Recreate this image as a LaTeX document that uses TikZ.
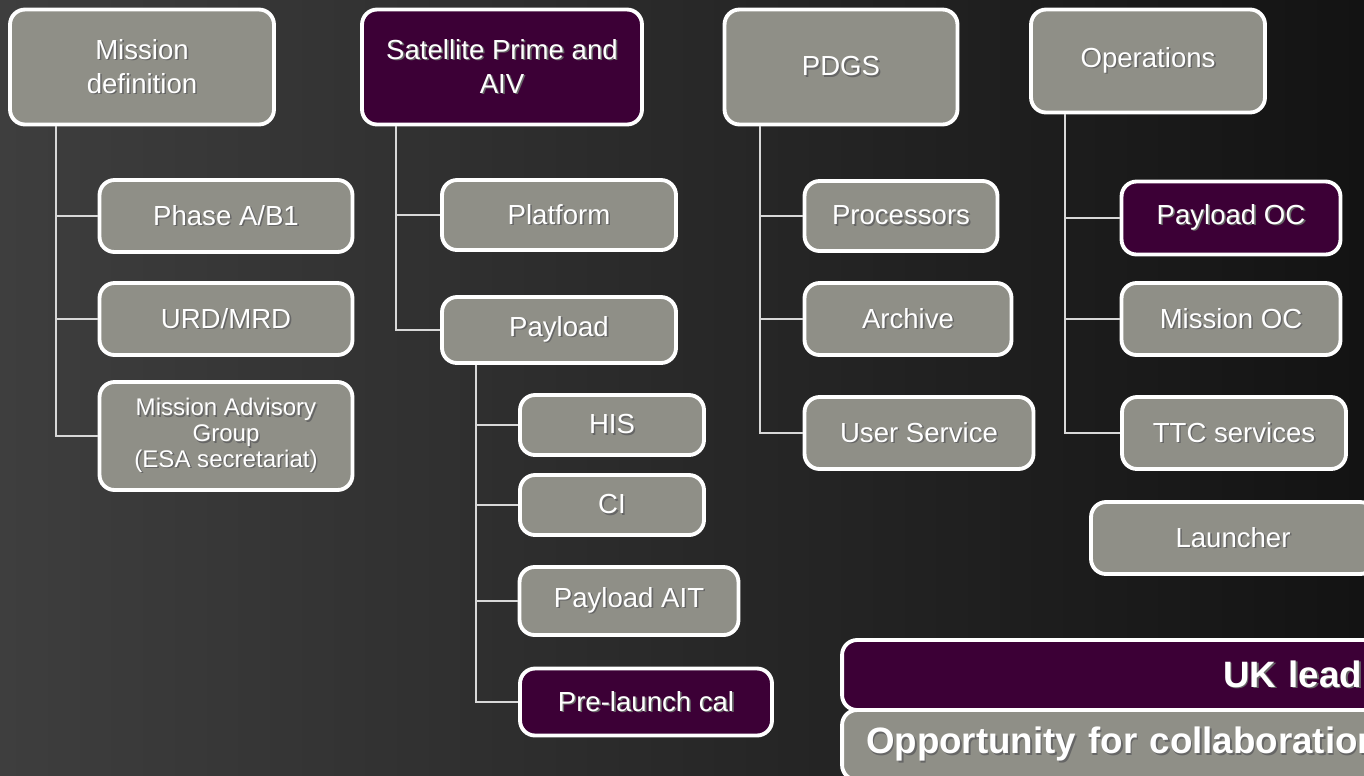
\documentclass[tikz,border=0pt]{standalone}
\usepackage{fontspec}
\setmainfont{Liberation Sans}
\usetikzlibrary{positioning}
\definecolor{bxgrey}{HTML}{8F8F87}
\definecolor{bxpurple}{HTML}{3C0036}
\definecolor{bgleft}{HTML}{3E3E3E}
\definecolor{bgright}{HTML}{131313}
\definecolor{lnwhite}{HTML}{D8D8D8}
% white text with a small dark drop shadow
\newcommand{\shtx}[1]{\leavevmode\rlap{\hspace{0.9pt}\raisebox{-0.9pt}{\color{black!60}#1}}#1}

\begin{document}
\begin{tikzpicture}[x=0.02cm, y=-0.02cm,
  wbs/.style={draw=white, line width=2.2pt, rounded corners=0.3cm, fill=bxgrey,
              text=white, align=center, inner sep=2pt,
              font=\fontsize{15.7}{19.3}\selectfont},
  ukl/.style={wbs, fill=bxpurple},
  smalltx/.style={font=\fontsize{13.7}{14.7}\selectfont},
  legtx/.style={font=\bfseries\fontsize{20.9}{24}\selectfont},
  conn/.style={draw=lnwhite, line width=1.1pt},
]
  \clip (0,0) rectangle (1364,775);
  \shade[left color=bgleft, right color=bgright] (0,0) rectangle (1364,775);

  % top level
  \node[wbs, minimum width=5.28cm, minimum height=2.3cm] (md) at (142,67)
    {\shtx{Mission}\\\shtx{definition}};
  \node[ukl, minimum width=5.6cm, minimum height=2.3cm] (sat) at (502,67)
    {\shtx{Satellite Prime and}\\\shtx{AIV}};
  \node[wbs, minimum width=4.66cm, minimum height=2.3cm] (pdgs) at (841,67)
    {\shtx{PDGS}};
  \node[wbs, minimum width=4.68cm, minimum height=2.06cm] (ops) at (1148,61)
    {\shtx{Operations}};

  % mission definition
  \node[wbs, minimum width=5.06cm, minimum height=1.44cm] (phase) at (226,216)
    {\shtx{Phase A/B1}};
  \node[wbs, minimum width=5.06cm, minimum height=1.44cm] (urd) at (226,319)
    {\shtx{URD/MRD}};
  \node[wbs, smalltx, minimum width=5.06cm, minimum height=2.16cm] (mag) at (226,436)
    {\shtx{Mission Advisory}\\\shtx{Group}\\\shtx{(ESA secretariat)}};

  % satellite
  \node[wbs, minimum width=4.68cm, minimum height=1.4cm] (plat) at (559,215)
    {\shtx{Platform}};
  \node[wbs, minimum width=4.68cm, minimum height=1.32cm] (payl) at (559,330)
    {\shtx{Payload}};
  \node[wbs, minimum width=3.68cm, minimum height=1.2cm] (his) at (612,425)
    {\shtx{HIS}};
  \node[wbs, minimum width=3.68cm, minimum height=1.2cm] (ci) at (612,505)
    {\shtx{CI}};
  \node[wbs, minimum width=4.38cm, minimum height=1.36cm] (pait) at (629,601)
    {\shtx{Payload AIT}};
  \node[ukl, minimum width=5.04cm, minimum height=1.34cm] (prel) at (646,702)
    {\shtx{Pre-launch cal}};

  % pdgs
  \node[wbs, minimum width=3.86cm, minimum height=1.4cm] (proc) at (901,216)
    {\shtx{Processors}};
  \node[wbs, minimum width=4.14cm, minimum height=1.44cm] (arch) at (908,319)
    {\shtx{Archive}};
  \node[wbs, minimum width=4.58cm, minimum height=1.44cm] (user) at (919,433)
    {\shtx{User Service}};

  % operations
  \node[ukl, minimum width=4.38cm, minimum height=1.46cm] (poc) at (1231,218)
    {\shtx{Payload OC}};
  \node[wbs, minimum width=4.38cm, minimum height=1.44cm] (moc) at (1231,319)
    {\shtx{Mission OC}};
  \node[wbs, minimum width=4.48cm, minimum height=1.44cm] (ttc) at (1234,433)
    {\shtx{TTC services}};
  \node[wbs, minimum width=5.68cm, minimum height=1.44cm] (launch) at (1233,538)
    {\shtx{Launcher}};

  % connectors
  \draw[conn] ([xshift=0.96cm]md.south west) |- (phase.west);
  \draw[conn] ([xshift=0.96cm]md.south west) |- (urd.west);
  \draw[conn] ([xshift=0.96cm]md.south west) |- (mag.west);
  \draw[conn] ([xshift=0.72cm]sat.south west) |- (plat.west);
  \draw[conn] ([xshift=0.72cm]sat.south west) |- (payl.west);
  \draw[conn] ([xshift=0.72cm]payl.south west) |- (his.west);
  \draw[conn] ([xshift=0.72cm]payl.south west) |- (ci.west);
  \draw[conn] ([xshift=0.72cm]payl.south west) |- (pait.west);
  \draw[conn] ([xshift=0.72cm]payl.south west) |- (prel.west);
  \draw[conn] ([xshift=0.74cm]pdgs.south west) |- (proc.west);
  \draw[conn] ([xshift=0.74cm]pdgs.south west) |- (arch.west);
  \draw[conn] ([xshift=0.74cm]pdgs.south west) |- (user.west);
  \draw[conn] ([xshift=0.72cm]ops.south west) |- (poc.west);
  \draw[conn] ([xshift=0.72cm]ops.south west) |- (moc.west);
  \draw[conn] ([xshift=0.72cm]ops.south west) |- (ttc.west);

  % legend (runs off the right edge)
  \node[ukl, legtx, minimum width=11.96cm, minimum height=1.4cm, text width=8.84cm,
        inner xsep=1.56cm, align=right] (uklead) at (1141,675) {\shtx{UK lead}};
  \node[wbs, legtx, minimum width=11.96cm, minimum height=1.4cm, text width=11cm,
        inner xsep=0.48cm, align=left] (collab) at (1141,745)
    {\shtx{Opportunity for collaboration}};
\end{tikzpicture}
\end{document}
